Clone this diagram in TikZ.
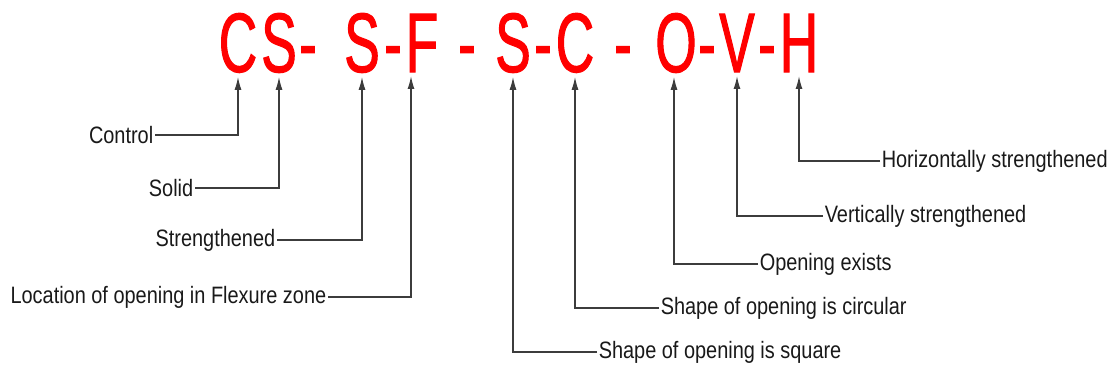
\documentclass[tikz,border=0pt]{standalone}
\usepackage{fontspec}
\setmainfont{Liberation Sans}
\newfontfamily\codefont[FakeStretch=0.63, FakeBold=1.2]{Liberation Sans}
\newfontfamily\labelfont[FakeStretch=0.84]{Liberation Sans}
\usetikzlibrary{arrows.meta}
\definecolor{codered}{RGB}{255,0,0}
\definecolor{leadgray}{RGB}{60,60,60}
\tikzset{
  letter/.style={anchor=base, inner sep=0, outer sep=0, text=codered, font=\codefont\fontsize{48}{48}\selectfont},
  desc/.style={inner sep=0, outer sep=1pt, text=black!90, font=\labelfont\fontsize{13.5}{13.5}\selectfont},
  lead/.style={draw=leadgray, line width=0.8pt, -{Latex[length=0.26cm,width=0.14cm]}, shorten >=0.08cm}
}
\begin{document}
\begin{tikzpicture}[x=0.02cm, y=-0.02cm]
        \useasboundingbox (0,0) rectangle (1116,372);

        % the specimen code
        \node[letter] (c1) at (238,72) {C};
        \node[letter] (s1) at (279,72) {S};
        \node[letter] (d1) at (308,72) {-};
        \node[letter] (s2) at (362,72) {S};
        \node[letter] (d2) at (393,72) {-};
        \node[letter] (f) at (422,72) {F};
        \node[letter] (d3) at (467,72) {-};
        \node[letter] (s3) at (513,72) {S};
        \node[letter] (d4) at (543,72) {-};
        \node[letter] (c2) at (575,72) {C};
        \node[letter] (d5) at (623,72) {-};
        \node[letter] (o) at (676,72) {O};
        \node[letter] (d6) at (707,72) {-};
        \node[letter] (v) at (737,72) {V};
        \node[letter] (d7) at (767,72) {-};
        \node[letter] (h) at (799,72) {H};

        % left side descriptions
        \node[desc, anchor=east] (control) at (155,135) {Control};
        \node[desc, anchor=east] (solid) at (195,188) {Solid};
        \node[desc, anchor=east] (streng) at (277,240) {Strengthened};
        \node[desc, anchor=east] (flexure) at (328,297) {Location of opening in Flexure zone};

        % right side descriptions
        \node[desc, anchor=west] (square) at (597,352) {Shape of opening is square};
        \node[desc, anchor=west] (circular) at (659,308) {Shape of opening is circular};
        \node[desc, anchor=west] (exists) at (758,264) {Opening exists};
        \node[desc, anchor=west] (vert) at (823,216) {Vertically strengthened};
        \node[desc, anchor=west] (horiz) at (880,161) {Horizontally strengthened};

        \draw[lead] (control.east) -| (c1.south);
        \draw[lead] (solid.east) -| (s1.south);
        \draw[lead] (streng.east) -| (s2.south);
        \draw[lead] (flexure.east) -| ([xshift=-0.22cm]f.south);
        \draw[lead] (square.west) -| (s3.south);
        \draw[lead] (circular.west) -| (c2.south);
        \draw[lead] (exists.west) -| ([xshift=-0.04cm]o.south);
        \draw[lead] (vert.west) -| (v.south);
        \draw[lead] (horiz.west) -| (h.south);
      \end{tikzpicture}
\end{document}
